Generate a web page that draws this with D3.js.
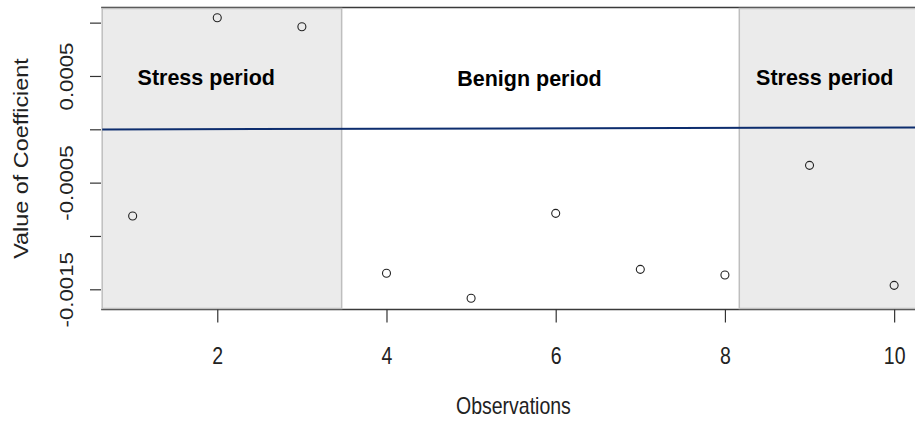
<!DOCTYPE html>
<html>
<head>
<meta charset="utf-8" />
<title>Value of Coefficient</title>
<script src="https://cdnjs.cloudflare.com/ajax/libs/d3/7.8.5/d3.min.js"></script>
<style>
    html, body { margin: 0; padding: 0; background: #fff; }
    svg { display: block; font-family: "Liberation Sans", Arial, sans-serif; }
</style>
</head>
<body>
<div id="container"></div>
<script>
// observations and the estimated coefficient for each
var observations = [1, 2, 3, 4, 5, 6, 7, 8, 9, 10];
var coefficients = [-0.000813, 0.001046, 0.000962, -0.001350, -0.001584,
                    -0.000788, -0.001313, -0.001366, -0.000338, -0.001463];

// shaded periods (in observation units) and their captions
var stressPeriods = [[0.64, 3.47], [8.17, 10.36]];
var periodLabels = [
    { text: 'Stress period', x: 1.87, y: 0.00042 },
    { text: 'Benign period', x: 5.69, y: 0.00041 },
    { text: 'Stress period', x: 9.18, y: 0.00042 }
];

// fitted line, given at both ends of the x range
var lineX = [0.64, 10.36];
var lineY = [-0.000002, 0.000018];

var xTicks = [2, 4, 6, 8, 10];
var yTicks = [-0.0015, -0.001, -0.0005, 0, 0.0005, 0.001];
var yTickLabels = [-0.0015, -0.0005, 0.0005];

var WIDTH = 915, HEIGHT = 421;
var shade_color = '#ebebeb';
var shade_edge  = '#bebebe';
var line_color  = '#0d2d6e';
var text_color  = '#222';

var svg = d3.select('#container')
    .append('svg')
    .attr('width', WIDTH)
    .attr('height', HEIGHT);

var xscale = d3.scaleLinear()
    .domain([0.64, 10.36])
    .range([102.2, 924.6]);

var yscale = d3.scaleLinear()
    .domain([-0.0016894, 0.0011419])
    .range([309.5, 7.5]);

var plotTop = yscale.range()[1], plotBottom = yscale.range()[0];

// frame (top and bottom; left side sits under the shading)
svg.append('g')
    .attr('class', 'frame')
    .selectAll('line')
    .data([plotTop, plotBottom])
    .enter().append('line')
    .attr('x1', xscale.range()[0] - 1)
    .attr('x2', WIDTH)
    .attr('y1', function(d) { return d; })
    .attr('y2', function(d) { return d; })
    .style('stroke', '#3a3a3a')
    .style('stroke-width', 1.5);

// shaded stress periods
svg.append('g')
    .attr('class', 'shading')
    .selectAll('rect')
    .data(stressPeriods)
    .enter().append('rect')
    .attr('x', function(d) { return xscale(d[0]); })
    .attr('y', plotTop + 1)
    .attr('width', function(d) { return xscale(d[1]) - xscale(d[0]); })
    .attr('height', plotBottom - plotTop - 2)
    .style('fill', shade_color)
    .style('stroke', shade_edge)
    .style('stroke-width', 1.5);

// fitted line
svg.append('line')
    .attr('x1', xscale(lineX[0]))
    .attr('x2', xscale(lineX[1]))
    .attr('y1', yscale(lineY[0]))
    .attr('y2', yscale(lineY[1]))
    .style('stroke', line_color)
    .style('stroke-width', 2);

// points
svg.append('g')
    .attr('class', 'points')
    .selectAll('circle')
    .data(observations)
    .enter().append('circle')
    .attr('cx', function(d) { return xscale(d); })
    .attr('cy', function(d, i) { return yscale(coefficients[i]); })
    .attr('r', 4)
    .style('fill', 'none')
    .style('stroke', '#222')
    .style('stroke-width', 1.1);

// period captions
svg.append('g')
    .attr('class', 'captions')
    .selectAll('text')
    .data(periodLabels)
    .enter().append('text')
    .attr('x', function(d) { return xscale(d.x); })
    .attr('y', function(d) { return yscale(d.y); })
    .attr('text-anchor', 'middle')
    .style('font-size', '21.5px')
    .style('font-weight', 'bold')
    .style('fill', '#000')
    .text(function(d) { return d.text; });

// x axis
var x_axis = d3.axisBottom(xscale)
    .tickValues(xTicks)
    .tickSize(13)
    .tickSizeOuter(0);

var gx = svg.append('g')
    .attr('class', 'x-axis')
    .attr('transform', 'translate(0,' + plotBottom + ')')
    .call(x_axis);
gx.select('.domain').remove();
gx.selectAll('line').style('stroke', '#333').style('stroke-width', 1.2);
gx.selectAll('text')
    .attr('y', null)
    .attr('dy', null)
    .attr('transform', 'translate(0,54.5) scale(1,1.2)')
    .style('font-size', '19.5px')
    .style('fill', text_color);

// y axis, labels only on every other tick as R does
var y_axis = d3.axisLeft(yscale)
    .tickValues(yTicks)
    .tickSize(11)
    .tickSizeOuter(0)
    .tickFormat(function(d) {
        return yTickLabels.indexOf(d) >= 0 ? String(d) : '';
    });

var gy = svg.append('g')
    .attr('class', 'y-axis')
    .attr('transform', 'translate(101,0)')
    .call(y_axis);
gy.select('.domain').remove();
gy.selectAll('line').style('stroke', '#333').style('stroke-width', 1.2);
gy.selectAll('text')
    .attr('x', null)
    .attr('dy', null)
    .attr('text-anchor', 'middle')
    .attr('transform', 'translate(-28,0) rotate(-90) scale(1.2,1)')
    .style('font-size', '18.5px')
    .style('fill', text_color);
gy.attr('font-family', null).attr('font-size', null);
gx.attr('font-family', null).attr('font-size', null);

// axis titles
svg.append('text')
    .attr('text-anchor', 'middle')
    .attr('transform', 'translate(' + d3.mean(xscale.range()) + ',414) scale(1,1.2)')
    .style('font-size', '19.5px')
    .style('fill', text_color)
    .text('Observations');

svg.append('text')
    .attr('text-anchor', 'middle')
    .attr('transform', 'translate(28,' + d3.mean(yscale.range()) + ') rotate(-90) scale(1.2,1)')
    .style('font-size', '19.5px')
    .style('fill', text_color)
    .text('Value of Coefficient');
</script>
</body>
</html>
